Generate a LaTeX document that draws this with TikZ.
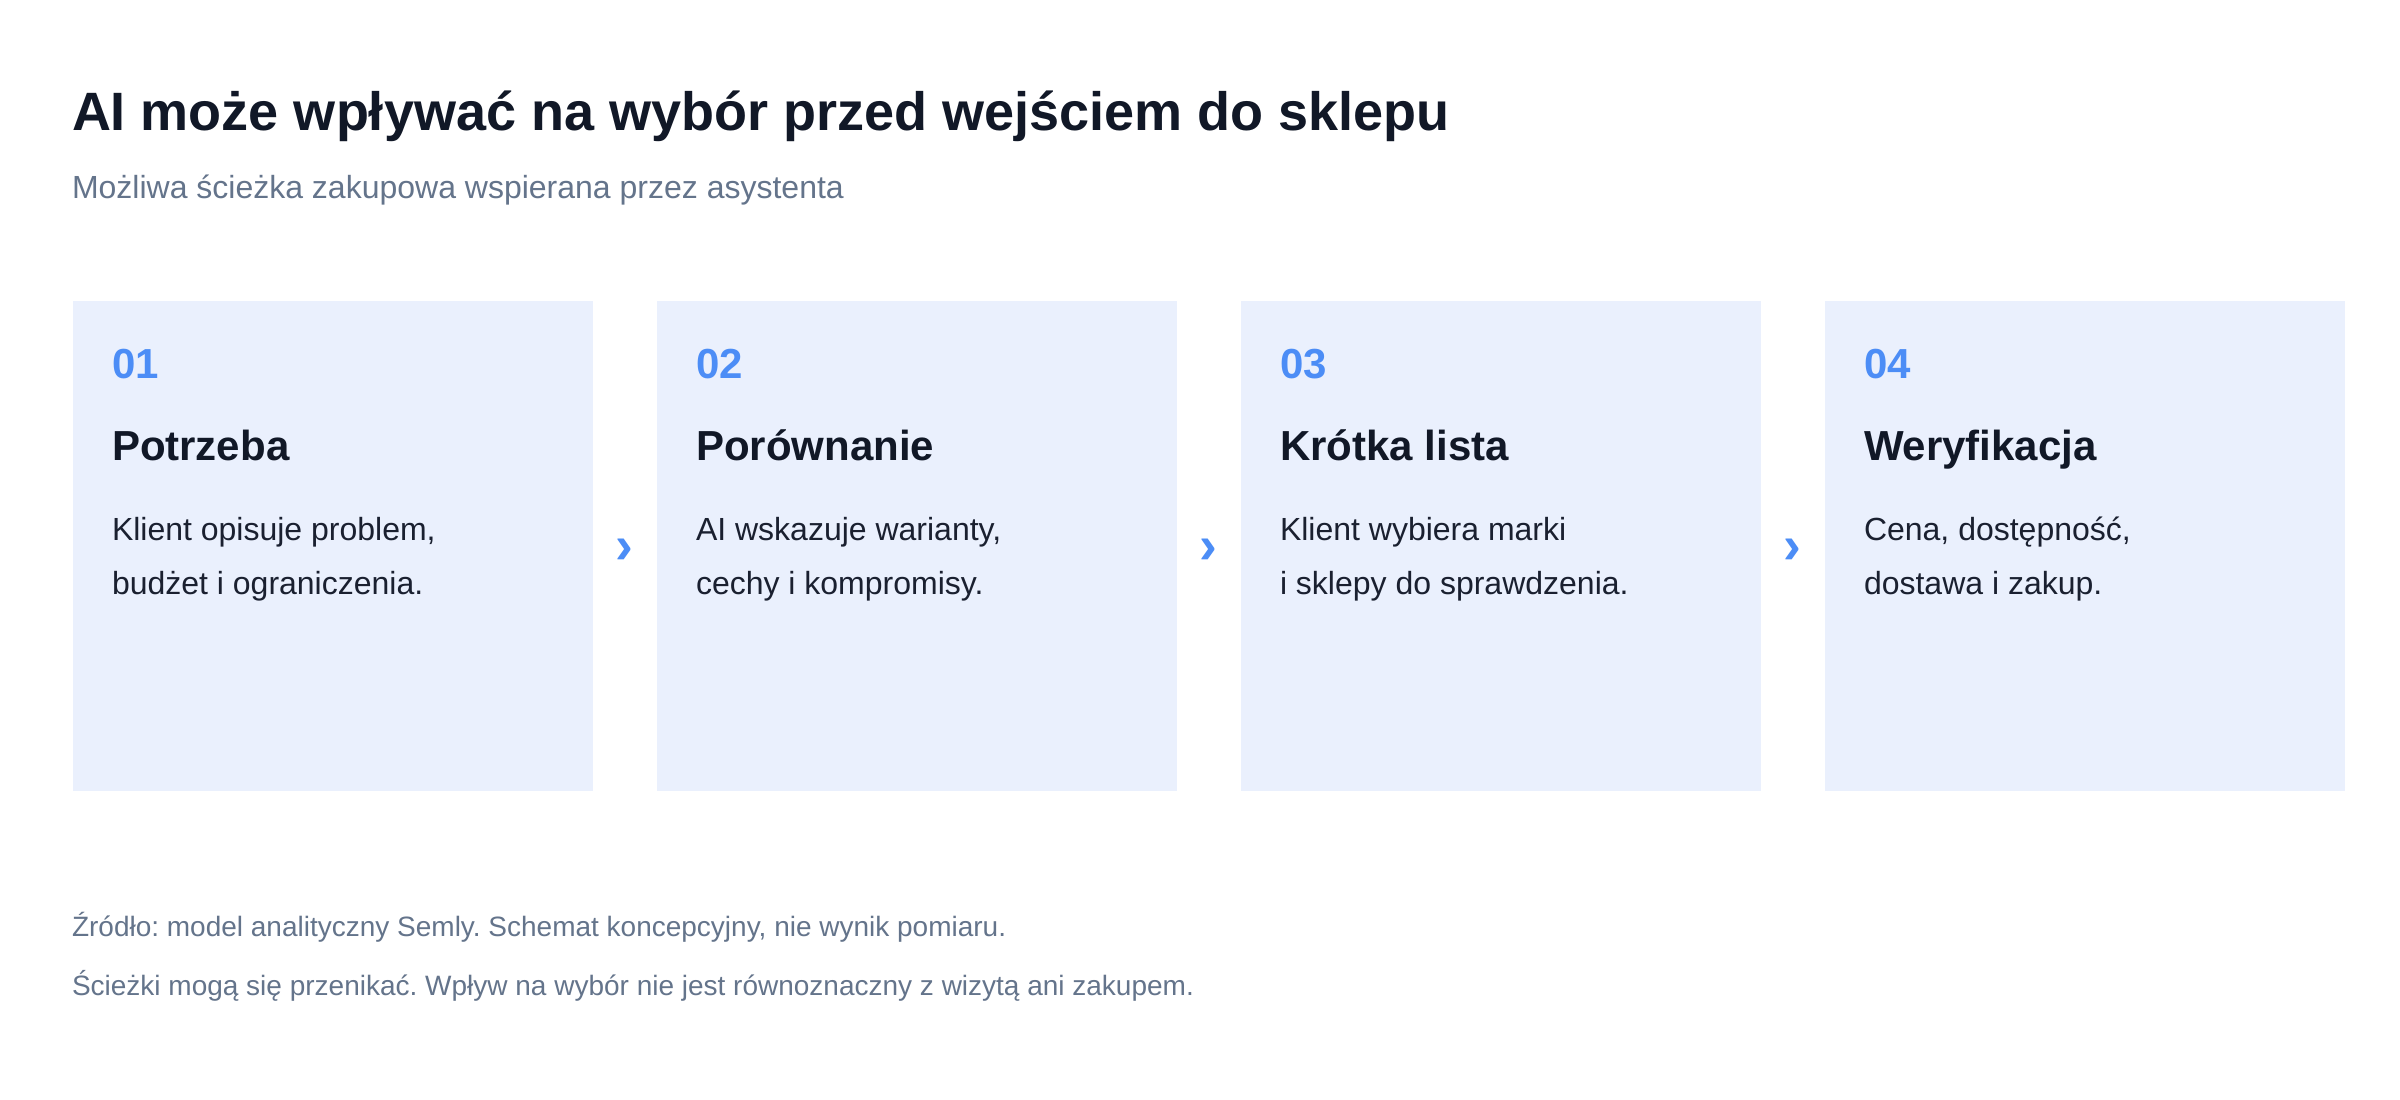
\documentclass[tikz,border=0pt]{standalone}
\usepackage{fontspec}
\setmainfont{Liberation Sans}
\usetikzlibrary{calc}
\definecolor{ink}{HTML}{111827}
\definecolor{bodyink}{HTML}{1A2030}
\definecolor{muted}{HTML}{64748B}
\definecolor{accent}{HTML}{4C8DF6}
\definecolor{cardfill}{HTML}{EAF0FD}
\tikzset{
  txt/.style={anchor=base west, inner sep=0pt, outer sep=0pt},
  titletxt/.style={txt, text=ink, font=\fontsize{16.2pt}{19pt}\selectfont\bfseries},
  subtxt/.style={txt, text=muted, font=\fontsize{9.6pt}{12pt}\selectfont},
  cardbox/.style={anchor=north west, fill=cardfill, draw=none, inner sep=0pt,
    minimum width=156pt, minimum height=147pt},
  numtxt/.style={txt, text=accent, font=\fontsize{12.6pt}{15pt}\selectfont\bfseries},
  headtxt/.style={txt, text=ink, font=\fontsize{12.6pt}{15pt}\selectfont\bfseries},
  bodytxt/.style={txt, text=bodyink, font=\fontsize{9.6pt}{12pt}\selectfont},
  chev/.style={inner sep=0pt, text=accent, font=\fontsize{16pt}{18pt}\selectfont\bfseries},
  foottxt/.style={txt, text=muted, font=\fontsize{8.4pt}{10pt}\selectfont}
}
\begin{document}
\frenchspacing
\begin{tikzpicture}[x=0.3pt,y=-0.3pt]
\useasboundingbox[fill=white] (0,0) rectangle (2400,1100);
\node[titletxt] (title) at (72,130) {AI może wpływać na wybór przed wejściem do sklepu};
\node[subtxt] (subtitle) at (72,198) {Możliwa ścieżka zakupowa wspierana przez asystenta};

\foreach \i/\x/\num/\head/\la/\lb in {
  1/72/01/Potrzeba/{Klient opisuje problem,}/{budżet i ograniczenia.},
  2/656/02/Porównanie/{AI wskazuje warianty,}/{cechy i kompromisy.},
  3/1240/03/Krótka lista/{Klient wybiera marki}/{i sklepy do sprawdzenia.},
  4/1824/04/Weryfikacja/{Cena, dostępność,}/{dostawa i zakup.}} {
  \node[cardbox] (card\i) at (\x,300) {};
  \node[numtxt] (num\i) at (\x+40,378) {\num};
  \node[headtxt] (head\i) at (\x+40,460) {\head};
  \node[bodytxt] (bodya\i) at (\x+40,540) {\la};
  \node[bodytxt] (bodyb\i) at (\x+40,594) {\lb};
}

\foreach \a/\b in {1/2,2/3,3/4} {
  \node[chev] (chev\a) at ($(card\a.east)!0.5!(card\b.west)+(0,6)$) {›};
}

\node[foottxt] (foot1) at (72,936) {Źródło: model analityczny Semly. Schemat koncepcyjny, nie wynik pomiaru.};
\node[foottxt] (foot2) at (72,995) {Ścieżki mogą się przenikać. Wpływ na wybór nie jest równoznaczny z wizytą ani zakupem.};
\end{tikzpicture}
\end{document}
